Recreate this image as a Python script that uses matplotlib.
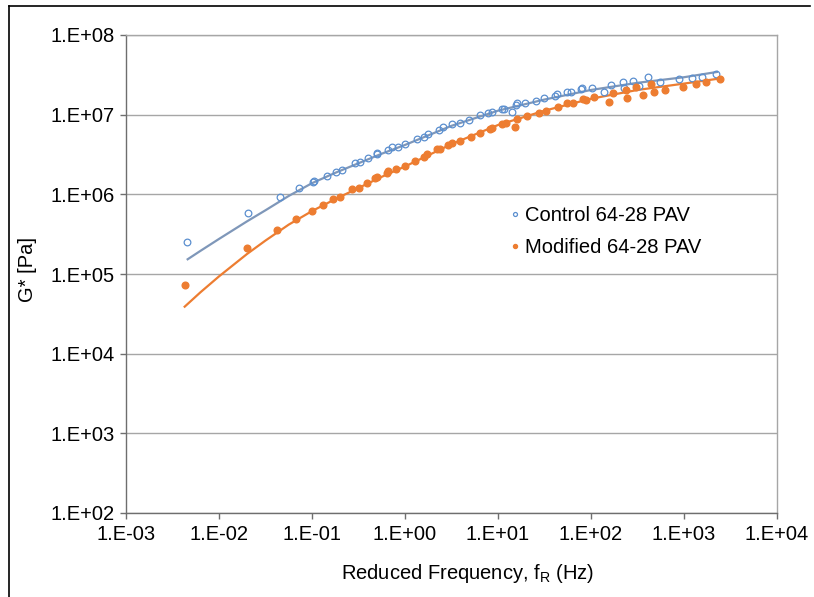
import matplotlib
matplotlib.use("Agg")
import matplotlib.pyplot as plt
import numpy as np
from matplotlib.lines import Line2D
from matplotlib.ticker import FixedLocator, FuncFormatter, NullLocator

plt.rcParams['font.family'] = ['Liberation Sans', 'DejaVu Sans']
plt.rcParams['mathtext.fontset'] = 'custom'
plt.rcParams['mathtext.rm'] = 'Liberation Sans'

# measured points, stored as log10 values (frequency in Hz, G* in Pa)
control_logf = [-2.341, -1.685, -1.344, -1.140, -0.992, -0.975, -0.842, -0.745, -0.681,
                -0.538, -0.484, -0.401, -0.305, -0.298, -0.186, -0.143, -0.078, 0.0,
                0.126, 0.204, 0.251, 0.362, 0.412, 0.501, 0.591, 0.691, 0.81, 0.896,
                0.939, 1.040, 1.065, 1.147, 1.194, 1.201, 1.290, 1.409, 1.495, 1.613,
                1.631, 1.739, 1.781, 1.889, 1.900, 2.007, 2.140, 2.215, 2.348, 2.355,
                2.455, 2.519, 2.609, 2.742, 2.950, 3.083, 3.190, 3.341]
control_logg = [5.398, 5.770, 5.963, 6.076, 6.151, 6.167, 6.230, 6.284, 6.301,
                6.393, 6.406, 6.452, 6.506, 6.523, 6.557, 6.598, 6.598, 6.628,
                6.691, 6.724, 6.757, 6.808, 6.842, 6.879, 6.899, 6.933, 6.99, 7.017,
                7.037, 7.071, 7.071, 7.037, 7.121, 7.143, 7.150, 7.175, 7.205, 7.234,
                7.256, 7.281, 7.281, 7.318, 7.339, 7.331, 7.281, 7.372, 7.406, 7.331,
                7.426, 7.364, 7.469, 7.406, 7.444, 7.457, 7.477, 7.510]

modified_logf = [-2.369, -1.699, -1.373, -1.172, -0.997, -0.878, -0.778, -0.699, -0.573,
                 -0.495, -0.412, -0.326, -0.305, -0.197, -0.180, -0.100, 0.0, 0.108,
                 0.204, 0.233, 0.347, 0.376, 0.466, 0.501, 0.591, 0.706, 0.806, 0.914,
                 0.939, 1.040, 1.086, 1.183, 1.201, 1.308, 1.441, 1.516, 1.649, 1.745,
                 1.810, 1.918, 1.946, 2.035, 2.196, 2.240, 2.376, 2.383, 2.481, 2.562,
                 2.642, 2.681, 2.796, 2.993, 3.129, 3.237, 3.387]
modified_logg = [4.862, 5.326, 5.548, 5.690, 5.790, 5.866, 5.937, 5.963, 6.063,
                 6.083, 6.146, 6.201, 6.221, 6.272, 6.293, 6.314, 6.356, 6.422,
                 6.473, 6.503, 6.565, 6.573, 6.619, 6.641, 6.670, 6.720, 6.766, 6.820,
                 6.836, 6.883, 6.892, 6.842, 6.942, 6.983, 7.017, 7.050, 7.100, 7.143,
                 7.143, 7.193, 7.184, 7.218, 7.155, 7.276, 7.310, 7.213, 7.344, 7.247,
                 7.381, 7.281, 7.310, 7.351, 7.385, 7.406, 7.448]

# fitted master curves
fit_control_logf = [-2.337, -2.2, -2.0, -1.85, -1.7, -1.5, -1.25, -1.0, -0.75, -0.5, -0.25,
                    0.0, 0.5, 1.0, 1.5, 2.0, 2.5, 3.0, 3.355]
fit_control_logg = [5.185, 5.29, 5.44, 5.55, 5.66, 5.80, 5.98, 6.14, 6.27, 6.39, 6.51,
                    6.62, 6.86, 7.05, 7.19, 7.31, 7.40, 7.47, 7.536]
fit_modified_logf = [-2.369, -2.2, -2.0, -1.85, -1.7, -1.5, -1.25, -1.0, -0.75, -0.5, -0.25,
                     0.0, 0.5, 1.0, 1.5, 2.0, 2.5, 3.0, 3.39]
fit_modified_logg = [4.590, 4.77, 4.97, 5.11, 5.25, 5.42, 5.62, 5.79, 5.94, 6.08, 6.22,
                     6.35, 6.63, 6.87, 7.05, 7.20, 7.31, 7.39, 7.455]

x_decades = list(range(-3, 5))
y_decades = list(range(2, 9))

blue_pts = '#5b8fcf'
blue_line = '#7f97b9'
orange = '#ed7d31'

fig = plt.figure(figsize=(8.14, 5.97), dpi=100)
ax = fig.add_axes([126 / 814, 1 - 513 / 597, 651 / 814, 478 / 597])

ax.plot(10 ** np.array(fit_control_logf), 10 ** np.array(fit_control_logg),
        color=blue_line, lw=1.6, zorder=2)
ax.plot(10 ** np.array(fit_modified_logf), 10 ** np.array(fit_modified_logg),
        color=orange, lw=1.6, zorder=2)
ax.plot(10 ** np.array(control_logf), 10 ** np.array(control_logg), 'o', ls='none',
        mfc='none', mec=blue_pts, mew=0.9, ms=4.8, label='Control 64-28 PAV', zorder=3)
ax.plot(10 ** np.array(modified_logf), 10 ** np.array(modified_logg), 'o', ls='none',
        mfc=orange, mec=orange, ms=4.8, label='Modified 64-28 PAV', zorder=3)

ax.set_xscale('log')
ax.set_yscale('log')
ax.set_xlim(10.0 ** x_decades[0], 10.0 ** x_decades[-1])
ax.set_ylim(10.0 ** y_decades[0], 10.0 ** y_decades[-1])

fmt = FuncFormatter(lambda v, p: "1.E{:+03d}".format(int(round(np.log10(v)))))
ax.xaxis.set_major_locator(FixedLocator([10.0 ** e for e in x_decades]))
ax.yaxis.set_major_locator(FixedLocator([10.0 ** e for e in y_decades]))
ax.xaxis.set_minor_locator(NullLocator())
ax.yaxis.set_minor_locator(NullLocator())
ax.xaxis.set_major_formatter(fmt)
ax.yaxis.set_major_formatter(fmt)

ax.grid(True, axis='y', color='#a6a6a6', lw=1.0)
ax.set_axisbelow(True)
for s in ['left', 'bottom']:
    ax.spines[s].set_color('#6e6e6e')
    ax.spines[s].set_linewidth(1.0)
for s in ['top', 'right']:
    ax.spines[s].set_color('#a6a6a6')
    ax.spines[s].set_linewidth(1.0)
ax.tick_params(axis='both', direction='out', length=4, width=1.0, color='#6e6e6e',
               labelsize=14.5, labelcolor='black')
ax.tick_params(axis='x', pad=5)
ax.tick_params(axis='y', pad=4)

ax.set_xlabel(r'Reduced Frequency, f$_\mathregular{R}$ (Hz)', fontsize=14.5)
ax.set_ylabel('G* [Pa]', fontsize=14.5)
ax.xaxis.set_label_coords(0.524, -0.103)
ax.yaxis.set_label_coords(-0.137, 0.51)

ax.legend(loc='upper left', bbox_to_anchor=(0.568, 0.671), frameon=False, fontsize=14.5,
          markerscale=0.6, handlelength=0.5, handletextpad=0.25, labelspacing=0.62,
          borderpad=0.2)

# outer frame of the screenshot (top and left edges)
fig.add_artist(Line2D([9 / 814, 810 / 814], [1 - 6 / 597, 1 - 6 / 597], color='black', lw=1.2))
fig.add_artist(Line2D([9 / 814, 9 / 814], [0, 1 - 6 / 597], color='black', lw=1.2))

fig.savefig('out.png', dpi=100)
